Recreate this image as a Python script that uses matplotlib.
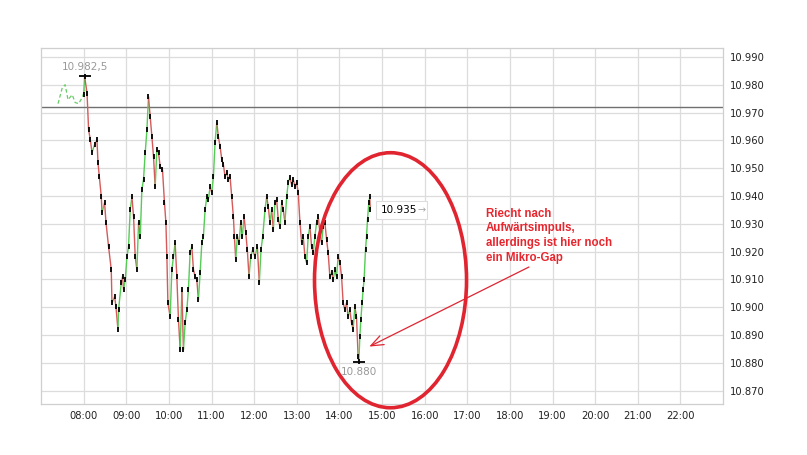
import numpy as np
import matplotlib
matplotlib.use("Agg")
import matplotlib.pyplot as plt
from matplotlib.collections import LineCollection
from matplotlib.patches import Ellipse, Rectangle

# ---------------- DATI (minuti dalle 08:00, prezzo) ----------------
pre_min = [-36, -30, -26, -22, -16, -12, -7, -2, 2]
pre_px = [10.9732, 10.9790, 10.9800, 10.9746, 10.9764, 10.9736, 10.9732, 10.9754, 10.9782]

main_min = [0, 1.4, 4.8, 7, 9.4, 11.8, 15.5, 18.8, 20.2, 22.1,
            24.9, 25.9, 29.5, 31.5, 35.1, 38.9, 39.9, 43.6, 45.5, 48.3,
            49.2, 53, 54.8, 56.2, 58.6, 61, 63.2, 65.6, 68, 70.3,
            72.6, 75, 77.3, 79.7, 82, 84.3, 86.7, 89.1, 91.3, 93.7,
            96.1, 98.4, 100.7, 103.1, 105.4, 107.8, 111, 113.8, 115.8, 117.2,
            118.6, 121.8, 124.2, 126.5, 128.8, 131.2, 133.5, 135.9, 138.3, 140.5,
            142.9, 145.3, 147.5, 149.9, 152.3, 154.6, 157, 159.3, 161.6, 164,
            166.4, 168.6, 171, 173.4, 175.6, 178, 180.4, 182.7, 185, 187.4,
            189.7, 192.1, 194.5, 196.7, 199.1, 201.5, 203.7, 206.1, 208.5, 210.8,
            212.2, 214.1, 216.4, 218.8, 221.1, 223.4, 225.8, 228.2, 230.4, 232.8,
            235.2, 238, 241.2, 244.5, 247.3, 249.7, 252.1, 255.3, 257.7, 259.9,
            262.3, 264.7, 267, 269.3, 271.7, 274, 276.4, 278.8, 281, 283.4,
            285.8, 288, 290.4, 292.8, 295.1, 297.4, 299.8, 302.1, 304.5, 306.9,
            309.1, 311.5, 313.9, 316.1, 318.5, 320.9, 323.2, 325.5, 327.9, 330.2,
            332.6, 335, 337.2, 339.6, 342, 344.2, 346.6, 349, 351.3, 353.6,
            356, 358.3, 360.7, 363.1, 365.3, 367.7, 370.1, 372.3, 374.7, 377.1,
            379.4, 381.7, 384.1, 386.4, 387.4, 388.8, 390.2, 392, 393.4, 394.8,
            396.8, 398.2, 399.6, 401.4, 402.8, 403.5]

main_px = [10.9764, 10.983, 10.977, 10.9638, 10.9602, 10.9556, 10.9585, 10.9602, 10.952, 10.9469,
           10.9397, 10.934, 10.9376, 10.9304, 10.9218, 10.9135, 10.9016, 10.9038, 10.9002, 10.892,
           10.8991, 10.9088, 10.911, 10.9063, 10.9099, 10.9182, 10.9218, 10.9351, 10.9397, 10.9326,
           10.9182, 10.9135, 10.9304, 10.9254, 10.9423, 10.9459, 10.9556, 10.9638, 10.9757, 10.9685,
           10.9613, 10.9541, 10.9433, 10.9567, 10.9556, 10.9505, 10.9495, 10.9376, 10.9304, 10.9182,
           10.9016, 10.8966, 10.9135, 10.9182, 10.9232, 10.911, 10.8955, 10.8847, 10.9063, 10.8847,
           10.8944, 10.8991, 10.9063, 10.9196, 10.9218, 10.9135, 10.911, 10.9099, 10.9027, 10.9124,
           10.9232, 10.9254, 10.9351, 10.9397, 10.9387, 10.9433, 10.9412, 10.9469, 10.9592, 10.9664,
           10.9613, 10.9577, 10.9531, 10.9513, 10.9469, 10.9484, 10.9459, 10.9469, 10.9397, 10.9326,
           10.9254, 10.9171, 10.9254, 10.9232, 10.9304, 10.9254, 10.9326, 10.9268, 10.9207, 10.911,
           10.9182, 10.9207, 10.9182, 10.9218, 10.9088, 10.9207, 10.9254, 10.9351, 10.9397, 10.9361,
           10.9304, 10.9351, 10.9279, 10.9376, 10.9387, 10.9315, 10.929, 10.9376, 10.9351, 10.9304,
           10.9397, 10.9448, 10.9466, 10.9441, 10.9459, 10.9433, 10.9448, 10.9412, 10.9304, 10.9232,
           10.9254, 10.9182, 10.916, 10.9254, 10.929, 10.9218, 10.9196, 10.9254, 10.9304, 10.9326,
           10.9268, 10.9232, 10.929, 10.9304, 10.9243, 10.9196, 10.911, 10.9124, 10.9099, 10.9135,
           10.911, 10.9182, 10.916, 10.911, 10.9016, 10.8991, 10.9016, 10.8966, 10.8991, 10.8944,
           10.892, 10.9002, 10.8966, 10.8822, 10.8804, 10.8894, 10.8955, 10.9016, 10.9063, 10.9099,
           10.9207, 10.9254, 10.9315, 10.9376, 10.9397, 10.935]

prev_close = 10.9719
high_label = "10.982,5"
low_label = "10.880"
last_label = "10.935"
note = "Riecht nach\nAufwärtsimpuls,\nallerdings ist hier noch\nein Mikro-Gap"

hour_ticks = list(range(0, 15 * 60, 60))
hour_labels = [f"{8 + i:02d}:00" for i in range(15)]
price_ticks = [10.870, 10.880, 10.890, 10.900, 10.910, 10.920, 10.930,
               10.940, 10.950, 10.960, 10.970, 10.980, 10.990]

# ---------------- GRAFICO ----------------
fig = plt.figure(figsize=(8.07, 4.55), dpi=100)
ax = fig.add_axes([41 / 807, 51 / 455, 682 / 807, 356 / 455])
ax.set_xlim(-60, 900)
ax.set_ylim(10.8652, 10.9932)

x = np.array(main_min)
p = np.array(main_px)

# griglia
ax.set_xticks(hour_ticks)
ax.set_xticklabels(hour_labels)
ax.set_yticks(price_ticks)
ax.set_yticklabels([f"{v:.3f}" for v in price_ticks])
ax.grid(True, color="#dcdcdc", linewidth=0.9)
ax.set_axisbelow(True)
ax.yaxis.tick_right()
ax.tick_params(length=0, labelsize=7.2, colors="#222222")
ax.tick_params(axis="y", pad=5)
ax.tick_params(axis="x", pad=5)
for s in ax.spines.values():
    s.set_color("#cfcfcf")
    s.set_linewidth(0.9)

# chiusura precedente
ax.axhline(prev_close, color="#707070", linewidth=1.0, zorder=2)

# pre-apertura tratteggiata
ax.plot(pre_min, pre_px, color="#66cc66", linewidth=0.9, linestyle=(0, (3, 2)), zorder=3)

# linea colorata verde/rosso
segs = np.stack([np.column_stack([x[:-1], p[:-1]]), np.column_stack([x[1:], p[1:]])], axis=1)
cols = np.where(np.diff(p) >= 0, "#55cc55", "#d65a5a")
ax.add_collection(LineCollection(segs, colors=cols, linewidths=1.0, zorder=3))

# corpi neri
ax.vlines(x, p - 0.0009, p + 0.0009, color="black", linewidth=1.3, zorder=4)

# massimo / minimo
i_hi = int(np.argmax(p))
i_lo = int(np.argmin(p))
ax.plot([x[i_hi]], [p[i_hi]], marker="_", markersize=9, mew=1.3, color="black", zorder=5)
ax.plot([x[i_lo]], [p[i_lo]], marker="_", markersize=9, mew=1.3, color="black", zorder=5)
ax.annotate(high_label, (x[i_hi], p[i_hi]), xytext=(0, 3), textcoords="offset points",
            ha="center", va="bottom", fontsize=7.5, color="#999999")
ax.annotate(low_label, (x[i_lo], p[i_lo]), xytext=(0, -4), textcoords="offset points",
            ha="center", va="top", fontsize=7.5, color="#999999")

# ultimo prezzo: riquadro in pixel attorno al punto finale
lx, ly = ax.transData.transform((x[-1], p[-1]))
ax.add_patch(Rectangle((lx + 6, ly - 9), 51, 18, transform=None, fc="white",
                       ec="#dddddd", lw=0.8, zorder=6))
ax.annotate(last_label, (x[-1], p[-1]), xytext=(7.5, 0), textcoords="offset points",
            ha="left", va="center", fontsize=7.5, color="black", zorder=7)
ax.annotate("\u2192", (x[-1], p[-1]), xytext=(37, 0), textcoords="offset points",
            ha="center", va="center", fontsize=7, color="#aaaaaa", zorder=7)

# ellisse rossa
ax.add_patch(Ellipse((432, 10.9097), 214, 0.0917, fill=False, ec="#e02530",
                     lw=2.6, clip_on=False, zorder=8))

# freccia e commento
ax.annotate("", xy=(398.6, 10.8854), xytext=(630.4, 10.9149),
            arrowprops=dict(arrowstyle="->,head_length=0.9,head_width=0.35",
                            color="#e02530", lw=0.9), annotation_clip=False)
ax.text(566, 10.9358, note, color="#e8262e", fontsize=8.3, fontweight="bold",
        family="Liberation Sans", ha="left", va="top", linespacing=1.3)

fig.savefig("out.png", dpi=100)
